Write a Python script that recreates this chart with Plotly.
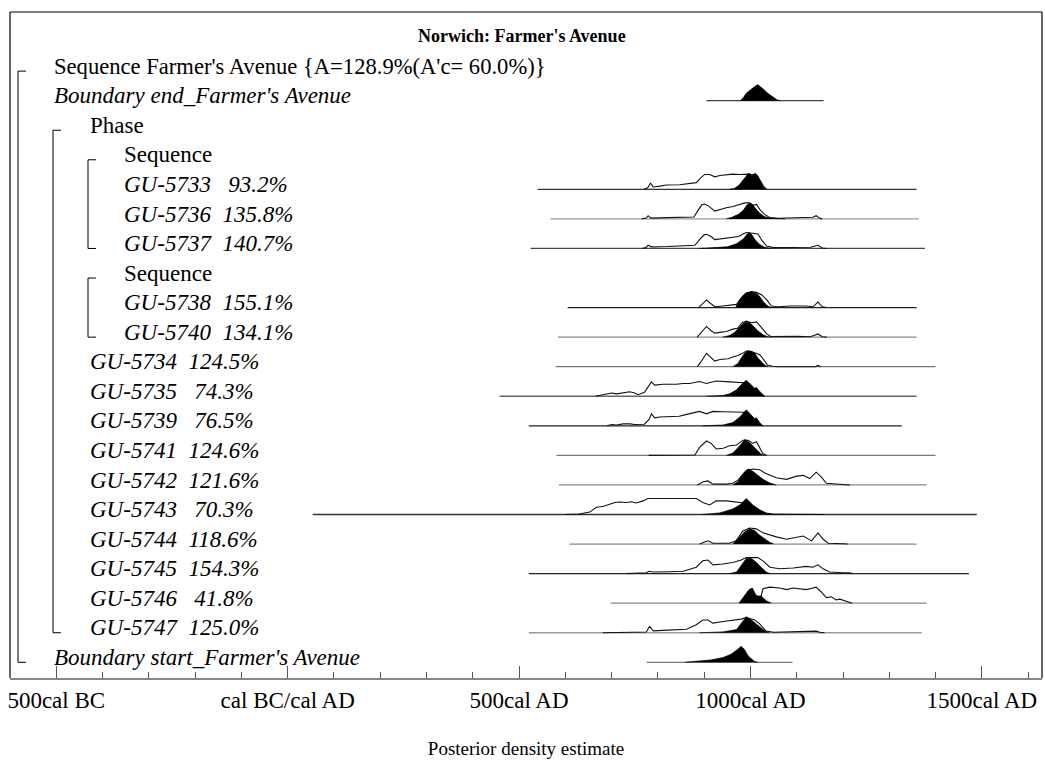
import plotly.graph_objects as go

# ---------------- data (years AD, negative = BC; heights relative to peak) ----------------
X_RANGE = [-600, 1630]
TICK_VALS = [-500, 0, 500, 1000, 1500]
TICK_TEXT = ["500cal BC", "cal BC/cal AD", "500cal AD", "1000cal AD", "1500cal AD"]
MINOR_STEP = 100

TITLE = "Norwich: Farmer's Avenue"
X_TITLE = "Posterior density estimate"
SEQ_LABEL = "Sequence Farmer's Avenue {A=128.9%(A'c= 60.0%)}"
BEND_LABEL = "Boundary end_Farmer's Avenue"
BSTART_LABEL = "Boundary start_Farmer's Avenue"

SAMPLE_NAMES = ["GU-5733", "GU-5736", "GU-5737", "GU-5738", "GU-5740", "GU-5734", "GU-5735",
                "GU-5739", "GU-5741", "GU-5742", "GU-5743", "GU-5744", "GU-5745", "GU-5746", "GU-5747"]
AGREEMENT = [93.2, 135.8, 140.7, 155.1, 134.1, 124.5, 74.3, 76.5, 124.6, 121.6, 70.3, 118.6, 154.3, 41.8, 125.0]
RANGE_START = [540, 568, 525, 605, 584, 579, 458, 521, 581, 586, 54, 609, 521, 698, 521]
RANGE_END = [1359, 1364, 1377, 1359, 1359, 1400, 1359, 1327, 1400, 1381, 1489, 1359, 1472, 1381, 1370]

BEND_RANGE = [905, 1158]
BEND_POST = [(978, 0), (985, 0.2), (991, 0.47), (1002, 0.75), (1010, 0.9), (1016, 1.0), (1021, 0.9),
             (1027, 0.75), (1038, 0.45), (1049, 0.2), (1058, 0.04), (1065, 0)]
BSTART_RANGE = [776, 1091]
BSTART_POST = [(858, 0), (890, 0.08), (915, 0.15), (941, 0.3), (958, 0.5), (972, 0.8), (980, 1.0),
               (987, 0.8), (995, 0.4), (1009, 0.05), (1016, 0)]

LIKE_5733 = [(770, 0), (778, 0.1), (784, 0.38), (790, 0.15), (805, 0.2), (818, 0.27), (847, 0.29), (870, 0.35),
             (883, 0.42), (892, 0.7), (901, 0.93), (912, 0.93), (923, 0.78), (934, 0.87), (948, 0.9), (962, 0.95),
             (977, 0.93), (995, 0.95), (1010, 0.9), (1020, 0.6), (1028, 0.2), (1035, 0)]
POST_5733 = [(955, 0), (965, 0.05), (975, 0.25), (985, 0.6), (992, 0.9), (996, 1.0), (1000, 0.95), (1003, 0.85),
             (1007, 0.95), (1011, 1.0), (1016, 0.85), (1022, 0.45), (1028, 0.1), (1033, 0)]
LIKE_5736 = [(765, 0), (775, 0.05), (779, 0.2), (785, 0.05), (820, 0.08), (860, 0.08), (878, 0.12), (886, 0.5),
             (895, 0.88), (901, 0.93), (910, 0.8), (923, 0.49), (934, 0.6), (948, 0.7), (962, 0.78), (977, 0.9),
             (988, 1.0), (998, 1.0), (1006, 0.85), (1013, 0.9), (1020, 0.6), (1030, 0.3), (1042, 0.08),
             (1060, 0.04), (1090, 0.06), (1120, 0.05), (1135, 0.1), (1142, 0.2), (1149, 0.05), (1155, 0)]
POST_5736 = [(948, 0), (960, 0.1), (975, 0.3), (985, 0.55), (992, 0.85), (998, 1.0), (1004, 0.9), (1012, 0.6),
             (1020, 0.35), (1030, 0.15), (1040, 0.05), (1055, 0.02), (1075, 0)]
LIKE_5737 = [(765, 0), (774, 0.05), (779, 0.2), (786, 0.1), (820, 0.12), (860, 0.15), (880, 0.2), (890, 0.55),
             (900, 0.85), (905, 0.89), (915, 0.75), (923, 0.55), (940, 0.6), (960, 0.7), (975, 0.75), (984, 0.9),
             (991, 1.0), (1005, 0.95), (1016, 0.9), (1025, 0.5), (1035, 0.15), (1050, 0.05), (1100, 0.05),
             (1130, 0.08), (1146, 0.2), (1155, 0.03), (1165, 0)]
POST_5737 = [(890, 0), (920, 0.03), (950, 0.1), (970, 0.3), (985, 0.6), (993, 0.9), (998, 1.0), (1003, 0.85),
             (1010, 0.55), (1020, 0.25), (1030, 0.08), (1045, 0)]
LIKE_5738 = [(888, 0), (896, 0.2), (905, 0.48), (912, 0.3), (923, 0.05), (940, 0.1), (960, 0.15), (970, 0.2),
             (980, 0.6), (991, 0.9), (1002, 1.0), (1013, 0.95), (1024, 0.8), (1035, 0.5), (1045, 0.1), (1060, 0.05),
             (1085, 0.1), (1106, 0.12), (1120, 0.1), (1135, 0.05), (1146, 0.35), (1155, 0.05), (1165, 0)]
POST_5738 = [(968, 0), (975, 0.4), (984, 0.75), (991, 0.92), (1002, 0.98), (1013, 0.9), (1020, 0.7), (1027, 0.4),
             (1035, 0.15), (1042, 0.03), (1048, 0)]
LIKE_5740 = [(885, 0), (893, 0.25), (905, 0.67), (915, 0.4), (923, 0.25), (934, 0.3), (948, 0.35), (962, 0.5),
             (972, 0.55), (982, 0.9), (991, 1.0), (1002, 0.9), (1013, 0.95), (1024, 0.6), (1035, 0.2), (1045, 0.03),
             (1080, 0.05), (1100, 0.05), (1130, 0.02), (1146, 0.2), (1155, 0.02), (1165, 0)]
POST_5740 = [(940, 0), (955, 0.1), (966, 0.3), (977, 0.6), (984, 0.85), (991, 0.95), (998, 0.9), (1006, 0.7),
             (1016, 0.4), (1027, 0.15), (1037, 0.03), (1045, 0)]
LIKE_5734 = [(885, 0), (893, 0.3), (905, 0.84), (915, 0.6), (923, 0.35), (934, 0.45), (952, 0.5), (962, 0.6),
             (973, 0.7), (984, 0.85), (991, 0.98), (1002, 0.95), (1013, 0.85), (1020, 0.75), (1027, 0.5),
             (1037, 0.1), (1048, 0.03), (1060, 0), (1140, 0), (1146, 0.08), (1152, 0)]
POST_5734 = [(962, 0), (973, 0.2), (980, 0.55), (988, 0.85), (995, 1.0), (1002, 0.95), (1009, 0.85), (1016, 0.55),
             (1024, 0.3), (1031, 0.1), (1038, 0)]
LIKE_5735 = [(665, 0), (675, 0.05), (689, 0.1), (700, 0.2), (711, 0.15), (725, 0.2), (739, 0.28), (750, 0.2),
             (757, 0.1), (771, 0.25), (780, 0.6), (786, 0.9), (793, 0.7), (811, 0.75), (840, 0.75), (854, 0.8),
             (868, 0.8), (890, 0.92), (905, 0.8), (926, 0.95), (955, 0.9), (975, 0.88), (985, 0.84), (995, 0.7),
             (1005, 0.35), (1015, 0.12), (1030, 0)]
POST_5735 = [(905, 0), (941, 0.05), (955, 0.15), (970, 0.4), (981, 0.75), (991, 1.0), (1002, 0.7), (1009, 0.5),
             (1013, 0.55), (1020, 0.3), (1031, 0)]
LIKE_5739 = [(690, 0), (700, 0.08), (711, 0.05), (725, 0.12), (740, 0.12), (750, 0.08), (771, 0.1), (781, 0.4),
             (786, 0.75), (793, 0.5), (804, 0.55), (826, 0.6), (846, 0.6), (860, 0.7), (890, 0.9), (905, 0.75),
             (919, 0.9), (941, 0.88), (970, 0.85), (985, 0.85), (995, 0.7), (1005, 0.35), (1015, 0.12), (1028, 0)]
POST_5739 = [(897, 0), (941, 0.05), (962, 0.2), (977, 0.55), (991, 1.0), (1002, 0.65), (1009, 0.45), (1013, 0.5),
             (1020, 0.2), (1027, 0)]
LIKE_5741 = [(780, 0), (880, 0.02), (890, 0.5), (905, 0.9), (915, 0.75), (926, 0.4), (941, 0.45), (955, 0.6),
             (970, 0.65), (984, 0.95), (995, 0.95), (1005, 0.75), (1013, 0.85), (1020, 0.5), (1027, 0.1), (1035, 0)]
POST_5741 = [(948, 0), (962, 0.15), (977, 0.6), (988, 1.0), (998, 0.8), (1005, 0.6), (1013, 0.35), (1024, 0.05),
             (1030, 0)]
LIKE_5742 = [(885, 0), (898, 0.2), (908, 0.25), (919, 0.05), (950, 0.05), (962, 0.1), (973, 0.3), (991, 0.9),
             (1005, 1.0), (1020, 0.95), (1031, 0.75), (1042, 0.6), (1056, 0.45), (1078, 0.35), (1100, 0.55),
             (1114, 0.6), (1128, 0.4), (1142, 0.8), (1153, 0.5), (1164, 0.1), (1178, 0.08), (1207, 0.02), (1215, 0)]
POST_5742 = [(962, 0), (973, 0.2), (984, 0.7), (995, 1.0), (1005, 0.85), (1016, 0.6), (1027, 0.35), (1042, 0.12),
             (1056, 0)]
LIKE_5743 = [(600, 0), (630, 0.03), (653, 0.15), (667, 0.45), (681, 0.5), (696, 0.65), (707, 0.75), (718, 0.78),
             (732, 0.75), (743, 0.8), (753, 0.72), (768, 0.85), (778, 1.0), (883, 1.0), (897, 0.75), (912, 0.6),
             (926, 0.85), (948, 0.85), (962, 0.8), (977, 0.75), (990, 0.7), (1005, 0.4), (1020, 0.15), (1034, 0.05),
             (1050, 0)]
POST_5743 = [(897, 0), (934, 0.1), (962, 0.35), (977, 0.6), (991, 1.0), (1005, 0.6), (1020, 0.3), (1034, 0.1),
             (1048, 0.03), (1080, 0.02), (1110, 0.02), (1150, 0.01), (1160, 0)]
LIKE_5744 = [(890, 0), (898, 0.1), (908, 0.2), (919, 0.05), (955, 0.05), (969, 0.2), (983, 0.8), (998, 1.0),
             (1013, 0.95), (1027, 0.7), (1042, 0.55), (1056, 0.45), (1078, 0.3), (1100, 0.45), (1114, 0.5),
             (1132, 0.2), (1146, 0.7), (1157, 0.3), (1168, 0.05), (1200, 0.02), (1210, 0)]
POST_5744 = [(962, 0), (976, 0.4), (987, 0.75), (998, 0.95), (1009, 0.85), (1020, 0.55), (1031, 0.3), (1042, 0.1),
             (1050, 0)]
LIKE_5745 = [(732, 0), (775, 0.05), (781, 0.15), (789, 0.1), (825, 0.12), (855, 0.15), (883, 0.4), (897, 0.8),
             (908, 0.85), (919, 0.55), (940, 0.6), (962, 0.7), (980, 0.85), (991, 1.0), (1016, 1.0), (1027, 0.8),
             (1042, 0.4), (1063, 0.3), (1092, 0.35), (1121, 0.45), (1135, 0.4), (1146, 0.55), (1157, 0.3),
             (1171, 0.1), (1200, 0.05), (1214, 0.05), (1220, 0)]
POST_5745 = [(955, 0), (970, 0.1), (980, 0.5), (991, 0.95), (1002, 0.95), (1013, 0.7), (1023, 0.4), (1034, 0.1),
             (1042, 0)]
LIKE_5746 = [(1016, 0), (1020, 0.1), (1027, 0.9), (1042, 1.0), (1063, 0.95), (1078, 0.85), (1092, 0.95),
             (1106, 0.9), (1121, 0.85), (1135, 0.95), (1142, 1.0), (1153, 0.7), (1164, 0.35), (1175, 0.4),
             (1185, 0.2), (1193, 0.25), (1203, 0.15), (1214, 0.05), (1220, 0)]
POST_5746 = [(975, 0), (987, 0.5), (997, 0.85), (1004, 0.95), (1012, 0.5), (1016, 0.45), (1023, 0.45), (1034, 0.15),
             (1045, 0)]
LIKE_5747 = [(681, 0), (720, 0.02), (775, 0.05), (782, 0.4), (790, 0.12), (811, 0.15), (840, 0.2), (862, 0.22),
             (883, 0.5), (897, 0.8), (908, 0.8), (919, 0.6), (941, 0.7), (962, 0.8), (980, 0.85), (991, 0.95),
             (1009, 0.8), (1020, 0.55), (1034, 0.1), (1050, 0.03), (1100, 0.05), (1121, 0.08), (1142, 0.1),
             (1150, 0.03), (1160, 0)]
POST_5747 = [(890, 0), (940, 0.05), (970, 0.2), (984, 0.7), (991, 1.0), (1002, 0.8), (1013, 0.55), (1024, 0.3),
             (1034, 0.05), (1040, 0)]

LIKES = [LIKE_5733, LIKE_5736, LIKE_5737, LIKE_5738, LIKE_5740, LIKE_5734, LIKE_5735, LIKE_5739,
         LIKE_5741, LIKE_5742, LIKE_5743, LIKE_5744, LIKE_5745, LIKE_5746, LIKE_5747]
POSTS = [POST_5733, POST_5736, POST_5737, POST_5738, POST_5740, POST_5734, POST_5735, POST_5739,
         POST_5741, POST_5742, POST_5743, POST_5744, POST_5745, POST_5746, POST_5747]

# ---------------- layout / style ----------------
W, H = 1045, 760
M_L, M_R, M_T, M_B = 10, 3, 12, 82
PLOT_W = W - M_L - M_R
PLOT_H = H - M_T - M_B
ROW0_PX = 71.1          # pixel of row-0 baseline
ROW_PX = 29.56          # row pitch in pixels
Y_RANGE = [(M_T + PLOT_H - ROW0_PX) / ROW_PX, (M_T - ROW0_PX) / ROW_PX]
PEAK = 16.0 / ROW_PX     # peak height in row units
LABEL_OFF = 4.9 / ROW_PX
INDENT_PX = [52, 88, 122]
FONT = "Liberation Serif"
SAMPLE_LINE = ["#333", "#999", "#444", "#222", "#888", "#777", "#666", "#222", "#777",
               "#888", "#333", "#888", "#222", "#888", "#999"]


def px2yr(px):
    return X_RANGE[0] + (px - M_L) * (X_RANGE[1] - X_RANGE[0]) / PLOT_W


# row structure: (kind, payload, indent)
ROWS = [("text", SEQ_LABEL, 0), ("bend", None, 0), ("text", "Phase", 1), ("text", "Sequence", 2),
        ("sample", 0, 2), ("sample", 1, 2), ("sample", 2, 2), ("text", "Sequence", 2),
        ("sample", 3, 2), ("sample", 4, 2)] + [("sample", i, 1) for i in range(5, 15)] + [("bstart", None, 0)]
BRACKETS = [(18, 0, 20), (53, 2, 19), (88, 3, 6), (88, 7, 9)]

fig = go.Figure()
annotations = []
shapes = []


def add_dist(r, rng, like, post, lcolor):
    fig.add_trace(go.Scatter(x=[rng[0], rng[1]], y=[r, r], mode="lines",
                             line=dict(color=lcolor, width=1.3), hoverinfo="skip", showlegend=False))
    if like:
        fig.add_trace(go.Scatter(x=[p[0] for p in like], y=[r - PEAK * p[1] for p in like], mode="lines",
                                 line=dict(color="#111", width=1.1), hoverinfo="skip", showlegend=False))
    fig.add_trace(go.Scatter(x=[p[0] for p in post], y=[r - PEAK * p[1] for p in post], mode="lines",
                             fill="toself", fillcolor="black", line=dict(color="black", width=0.7),
                             hoverinfo="skip", showlegend=False))


def add_label(r, text, indent, italic, size=23):
    annotations.append(dict(x=px2yr(INDENT_PX[indent]), y=r - LABEL_OFF, xref="x", yref="y",
                            text=f"<i>{text}</i>" if italic else text, showarrow=False,
                            xanchor="left", yanchor="middle",
                            font=dict(family=FONT, size=size, color="black")))


for r, (kind, payload, indent) in enumerate(ROWS):
    if kind == "text":
        add_label(r, payload, indent, False, 22.6 if r == 0 else 23)
    elif kind == "bend":
        add_label(r, BEND_LABEL, indent, True)
        add_dist(r, BEND_RANGE, None, BEND_POST, "#444")
    elif kind == "bstart":
        add_label(r, BSTART_LABEL, indent, True)
        add_dist(r, BSTART_RANGE, None, BSTART_POST, "#777")
    else:
        i = payload
        a = AGREEMENT[i]
        pad = "\u00a0\u00a0" + ("\u00a0" if a < 100 else "")
        add_label(r, f"{SAMPLE_NAMES[i]}{pad}{a:.1f}%", indent, True)
        add_dist(r, [RANGE_START[i], RANGE_END[i]], LIKES[i], POSTS[i], SAMPLE_LINE[i])

for (xp, r0, r1) in BRACKETS:
    x0, x1 = px2yr(xp), px2yr(xp + 8)
    shapes.append(dict(type="line", xref="x", yref="y", x0=x0, x1=x0, y0=r0, y1=r1,
                       line=dict(color="black", width=1)))
    for rr in (r0, r1):
        shapes.append(dict(type="line", xref="x", yref="y", x0=x0, x1=x1, y0=rr, y1=rr,
                           line=dict(color="black", width=1)))

# frame: left, top, right
for (x0, y0, x1, y1) in [(0, 0, 0, 1), (0, 1, 1, 1), (1, 0, 1, 1)]:
    shapes.append(dict(type="line", xref="paper", yref="paper", x0=x0, y0=y0, x1=x1, y1=y1,
                       line=dict(color="black", width=1.2)))

annotations.append(dict(x=(522 - M_L) / PLOT_W, y=(36 - ROW0_PX) / ROW_PX, xref="paper", yref="y",
                        text=f"<b>{TITLE}</b>", showarrow=False, xanchor="center", yanchor="middle",
                        font=dict(family=FONT, size=18, color="black")))

fig.update_layout(
    width=W, height=H, margin=dict(l=M_L, r=M_R, t=M_T, b=M_B, autoexpand=False),
    paper_bgcolor="white", plot_bgcolor="white",
    font=dict(family=FONT, color="black"),
    annotations=annotations, shapes=shapes, showlegend=False,
    xaxis=dict(range=X_RANGE, tickmode="array", tickvals=TICK_VALS, ticktext=TICK_TEXT,
               ticks="inside", ticklen=12, tickwidth=1, tickcolor="#555",
               minor=dict(dtick=MINOR_STEP, tick0=0, ticks="inside", ticklen=6, tickwidth=1, tickcolor="#555",
                          showgrid=False),
               showline=True, linecolor="#888", linewidth=2, showgrid=False, zeroline=False,
               tickfont=dict(family=FONT, size=23, color="black"), ticklabelstandoff=0,
               title=dict(text=X_TITLE, font=dict(family=FONT, size=19, color="black"), standoff=30),
               automargin=False, fixedrange=True),
    yaxis=dict(range=Y_RANGE, visible=False, showgrid=False, zeroline=False, automargin=False, fixedrange=True),
)

fig.write_html("out.html", config={"displayModeBar": False, "staticPlot": True},
               post_script="document.body.style.margin='0';document.body.style.overflow='hidden';")
